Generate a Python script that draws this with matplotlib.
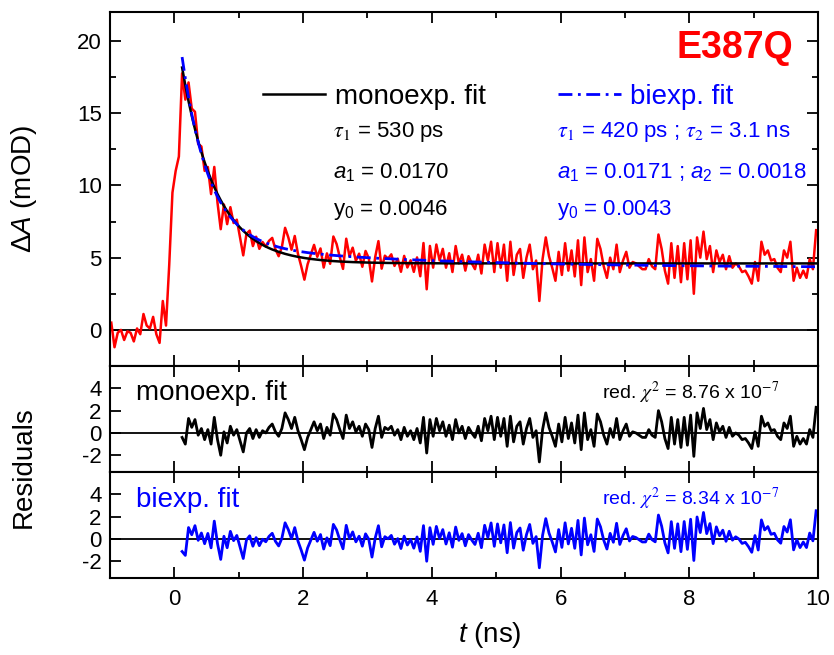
import numpy as np
import matplotlib.pyplot as plt

plt.rcParams['font.family'] = ['Liberation Sans', 'DejaVu Sans']
plt.rcParams['axes.unicode_minus'] = False
plt.rcParams['mathtext.fontset'] = 'custom'
plt.rcParams['mathtext.rm'] = 'Liberation Sans'
plt.rcParams['mathtext.it'] = 'Liberation Sans:italic'

# sampling step of the transient (ns)
dt = 0.05

# dA before / during the rise (mOD), t = -0.98 ... 0.07 ns
pre_rise = [0.5, -1.2, -0.2, 0.0, -0.7, -0.1, -0.2, -0.8, 0.1, -0.3, 1.1,
            0.3, 0.1, 0.9, -0.3, -0.9, 2.0, 0.3, 4.5, 9.5, 11.0, 12.0]

# residuals of the monoexp. fit (mOD), t = 0.12 ... 9.97 ns
resid_mono = [
    -0.4, -1.0, 1.3, 0.5, 1.2, -0.2, 0.4, -0.6, 0.3, -1.0,
    1.4, -0.6, -2.0, 0.1, -0.9, 0.6, -0.2, 0.3, -0.7, -1.7,
    0.0, 0.4, -0.5, 0.3, -0.4, 0.2, 0.0, 0.5, 0.8, 0.1,
    -0.3, 0.4, 1.8, 1.2, 0.4, 1.4, 0.2, -0.6, -1.5, -0.4,
    0.3, 1.0, 0.2, 0.8, -0.5, 0.5, -0.2, 1.7, 1.2, 0.3,
    -0.5, 1.6, 0.4, 1.0, 0.1, 0.6, -0.3, 0.8, 0.3, -1.3,
    0.4, 1.5, -0.4, 0.5, 0.3, 0.6, -0.2, 0.3, -0.6, 0.5,
    -0.3, 0.2, -0.6, 0.4, -0.9, 1.4, -1.8, 1.2, -0.3, 1.3,
    0.2, 1.0, -0.3, 0.7, -0.6, 1.2, 0.0, 0.6, -0.5, 0.5,
    0.0, -0.4, 0.6, -0.7, 1.3, 0.2, 1.5, -0.6, 1.4, -0.3,
    1.3, -1.2, 1.5, -0.8, 0.6, 1.0, -1.0, 0.4, 1.3, -0.4,
    0.2, -2.6, 0.3, 1.8, 0.5, -0.3, -1.2, 0.8, -0.8, 1.4,
    -0.5, 0.9, -0.9, 1.6, -1.5, 1.8, -0.6, 0.3, -1.2, 1.7,
    1.0, -0.2, -1.0, 0.4, -0.4, 1.3, -0.6, 0.2, 0.8, -0.3,
    0.1, 0.0, -0.2, -0.4, -0.4, 0.3, -0.2, -0.4, 2.0, 1.0,
    -0.5, -1.4, 1.4, -1.0, 1.2, -1.3, 1.4, -1.1, 1.6, -2.1,
    1.8, 0.4, 2.2, 0.3, 1.2, -0.6, 0.9, 0.1, 0.6, -0.4,
    0.5, -0.3, 0.0, -0.2, -0.6, -0.5, -0.9, -1.4, 0.1, -1.2,
    1.5, 0.6, 0.9, 0.2, 0.3, -0.3, -0.6, 0.9, 0.4, 1.5,
    -1.2, -0.3, -1.0, -0.5, -1.0, 0.3, -0.4, 2.3]

# fit parameters as printed on the chart (mOD, ns)
mono_y0, mono_a1, mono_tau1 = 4.6, 17.0, 0.53
bi_y0, bi_a1, bi_tau1, bi_a2, bi_tau2 = 4.3, 17.1, 0.42, 1.8, 3.1

t_pre = -0.98 + dt * np.arange(len(pre_rise))
t_fit = 0.12 + dt * np.arange(len(resid_mono))
fit_mono = mono_y0 + mono_a1 * np.exp(-t_fit / mono_tau1)
fit_bi = bi_y0 + bi_a1 * np.exp(-t_fit / bi_tau1) + bi_a2 * np.exp(-t_fit / bi_tau2)
data_tail = fit_mono + np.array(resid_mono)
resid_bi = data_tail - fit_bi
t_all = np.concatenate([t_pre, t_fit])
data_all = np.concatenate([pre_rise, data_tail])

fig = plt.figure(figsize=(8.34, 6.55), dpi=100)
L, W = 0.1319, 0.849
ax = fig.add_axes([L, 0.4412, W, 0.5405])
ax1 = fig.add_axes([L, 0.2794, W, 0.1618], sharex=ax)
ax2 = fig.add_axes([L, 0.1176, W, 0.1618], sharex=ax)

dash = (0, (5, 2, 1, 2))
ax.axhline(0, color='black', lw=1.3, zorder=1)
ax.plot(t_all, data_all, color='red', lw=1.8, zorder=2)
ax.plot(t_fit, fit_mono, color='black', lw=1.8, zorder=3, label='monoexp. fit')
ax.plot(t_fit, fit_bi, color='blue', lw=2.0, ls=dash, zorder=4, label='biexp. fit')

ax1.axhline(0, color='black', lw=1.3)
ax1.plot(t_fit, resid_mono, color='black', lw=2.0)
ax2.axhline(0, color='black', lw=1.3)
ax2.plot(t_fit, resid_bi, color='blue', lw=2.0)

ax.set_xlim(-1, 10)
ax.set_ylim(-2.5, 22)
ax.set_yticks([0, 5, 10, 15, 20])
ax.set_yticks(np.arange(-2.5, 22, 2.5), minor=True)
ax.set_xticks(np.arange(0, 11, 2))
ax.set_xticks(np.arange(-1, 11, 1), minor=True)
for a in (ax1, ax2):
    a.set_ylim(-3.5, 6)
    a.set_yticks([-2, 0, 2, 4])
    a.yaxis.set_minor_locator(plt.NullLocator())

for a in (ax, ax1, ax2):
    for s in a.spines.values():
        s.set_linewidth(1.5)
    a.tick_params(which='both', direction='in', top=True, width=1.3, labelsize=16)
    a.tick_params(which='major', length=8)
    a.tick_params(which='minor', length=4.5)
    a.tick_params(axis='y', pad=6)
    a.tick_params(axis='x', pad=8)
ax.tick_params(which='both', right=True)
ax.tick_params(labelbottom=False)
ax1.tick_params(labelbottom=False)

ax.set_ylabel(r'$\Delta A$ (mOD)', fontsize=20)
ax.yaxis.set_label_coords(-0.100, 0.5)
ax2.set_xlabel(r'$t$ (ns)', fontsize=20)
ax2.xaxis.set_label_coords(0.537, -0.40)
fig.text(0.029, 0.287, 'Residuals', rotation=90, fontsize=20, ha='center', va='center')

leg = ax.legend(loc='center left', bbox_to_anchor=(0.216, 0.761), ncol=2, frameon=False,
                fontsize=20, handlelength=2.25, handletextpad=0.35, columnspacing=2.6,
                borderpad=0, borderaxespad=0)
leg.get_texts()[0].set_color('black')
leg.get_texts()[1].set_color('blue')

ax.text(9.61, 19.5, 'E387Q', color='red', fontsize=27, fontweight='bold', ha='right', va='center')

fs = 16
ax.text(2.46, 13.7, r'$\tau_1$ = 530 ps', fontsize=fs, va='center', math_fontfamily='stix')
ax.text(2.46, 10.9, r'$a_1$ = 0.0170', fontsize=fs, va='center')
ax.text(2.46, 8.3, r'y$_0$ = 0.0046', fontsize=fs, va='center')
ax.text(5.95, 13.7, r'$\tau_1$ = 420 ps ; $\tau_2$ = 3.1 ns', fontsize=fs, va='center',
        color='blue', math_fontfamily='stix')
ax.text(5.95, 10.9, r'$a_1$ = 0.0171 ; $a_2$ = 0.0018', fontsize=fs, va='center', color='blue')
ax.text(5.95, 8.3, r'y$_0$ = 0.0043', fontsize=fs, va='center', color='blue')

ax1.text(-0.6, 3.6, 'monoexp. fit', fontsize=20, va='center')
ax2.text(-0.6, 3.5, 'biexp. fit', fontsize=20, va='center', color='blue')
ax1.text(9.4, 3.6, r'red. $\chi^2$ = 8.76 x 10$^{-7}$', fontsize=14, ha='right', va='center',
         math_fontfamily='stix')
ax2.text(9.4, 3.6, r'red. $\chi^2$ = 8.34 x 10$^{-7}$', fontsize=14, ha='right', va='center',
         color='blue', math_fontfamily='stix')

fig.savefig('out.png', dpi=100)
